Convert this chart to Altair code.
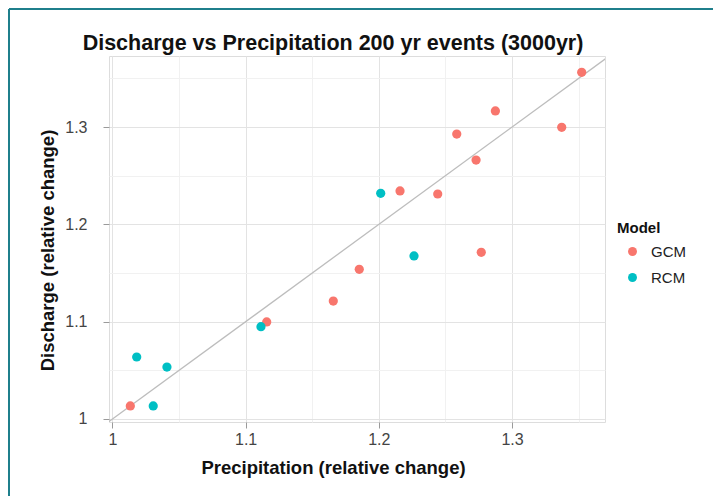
import altair as alt
import pandas as pd

# values
gcm_precip = [1.0134, 1.1158, 1.1658, 1.1853, 1.2159, 1.2442, 1.2585, 1.2730, 1.2769, 1.2875, 1.3373, 1.3523]
gcm_discharge = [1.0134, 1.0997, 1.1212, 1.1538, 1.2343, 1.2312, 1.2928, 1.2661, 1.1713, 1.3165, 1.2997, 1.3562]
rcm_precip = [1.0182, 1.0409, 1.0306, 1.1115, 1.2014, 1.2264]
rcm_discharge = [1.0637, 1.0534, 1.0134, 1.0948, 1.2319, 1.1675]
models = ["GCM", "RCM"]
model_colors = ["#F8766D", "#00BFC4"]
tick_values = [1.0, 1.05, 1.1, 1.15, 1.2, 1.25, 1.3, 1.35]
diag = [0.99, 1.38]  # y = x reference line

points = pd.DataFrame({
    "precip": gcm_precip + rcm_precip,
    "discharge": gcm_discharge + rcm_discharge,
    "Model": ["GCM"] * len(gcm_precip) + ["RCM"] * len(rcm_precip),
})
line_df = pd.DataFrame({"precip": diag, "discharge": diag})
frame_df = pd.DataFrame({"k": [0]})

FONT = "Liberation Sans"
is_major = "abs(datum.value * 10 - round(datum.value * 10)) < 0.001"

x_scale = alt.Scale(domain=[0.9974, 1.3698], nice=False, zero=False)
y_scale = alt.Scale(domain=[0.9969, 1.373], nice=False, zero=False)

common_axis = dict(
    values=tick_values,
    labelExpr=f"({is_major}) ? format(datum.value, '~g') : ''",
    gridColor={"condition": {"test": is_major, "value": "#E3E3E3"}, "value": "#F1F1F1"},
    tickOpacity={"condition": {"test": is_major, "value": 1}, "value": 0},
    tickColor="#9A9A9A",
    tickSize=6,
    domain=False,
    labelFont=FONT,
    labelFontSize=16,
    labelColor="#444444",
    titleFont=FONT,
    titleFontSize=18.5,
    titleFontWeight="bold",
    titleColor="#111111",
    titleAlign="center",
    titleBaseline="middle",
)

x_axis = alt.Axis(title="Precipitation (relative change)", labelPadding=3,
                  titleX=224, titleY=45, **common_axis)
y_axis = alt.Axis(title="Discharge (relative change)", labelPadding=16,
                  titleAngle=-90, titleX=-62, titleY=194, **common_axis)

diag_line = alt.Chart(line_df).mark_line(color="#BDBDBD", strokeWidth=1.3, clip=True).encode(
    x=alt.X("precip:Q", scale=x_scale, axis=x_axis),
    y=alt.Y("discharge:Q", scale=y_scale, axis=y_axis),
)

dots = alt.Chart(points).mark_point(filled=True, opacity=1, size=85, shape="circle").encode(
    x=alt.X("precip:Q", scale=x_scale, axis=x_axis),
    y=alt.Y("discharge:Q", scale=y_scale, axis=y_axis),
    color=alt.Color(
        "Model:N",
        scale=alt.Scale(domain=models, range=model_colors),
        legend=alt.Legend(
            title="Model",
            orient="none",
            legendX=508,
            legendY=165,
            titleFont=FONT,
            titleFontSize=15,
            titleFontWeight="bold",
            titleColor="#111111",
            titlePadding=8,
            labelFont=FONT,
            labelFontSize=15,
            labelColor="#222222",
            labelOffset=11,
            symbolType="circle",
            symbolSize=80,
            symbolOffset=8,
            symbolStrokeWidth=0,
            rowPadding=10,
        ),
    ),
)

# teal page frame on the left and top edges
frame_left = alt.Chart(frame_df).mark_rule(color="#1F7F8C", strokeWidth=2).encode(
    x=alt.value(-100), y=alt.value(-47), y2=alt.value(440)
)
frame_top = alt.Chart(frame_df).mark_rule(color="#1F7F8C", strokeWidth=2).encode(
    x=alt.value(-100), x2=alt.value(604), y=alt.value(-47)
)

chart = (
    alt.layer(frame_left, frame_top, diag_line, dots)
    .properties(
        width=496,
        height=366,
        padding=0,
        title=alt.TitleParams(
            "Discharge vs Precipitation 200 yr events (3000yr)",
            font=FONT,
            fontSize=21.5,
            fontWeight="bold",
            color="#111111",
            anchor="middle",
            dx=-24,
            offset=-46,
        ),
    )
    .configure_view(stroke="#BFBFBF", strokeWidth=1)
    .configure(background="white")
)

chart.save("out.html", embed_options={"renderer": "svg", "actions": False})
